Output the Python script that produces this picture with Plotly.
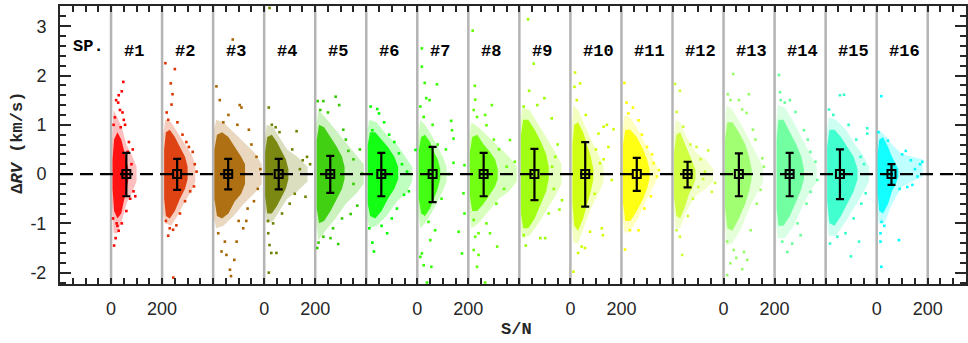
import plotly.graph_objects as go

# ---------------- data ----------------
panel_labels = ["#%d" % (i + 1) for i in range(16)]
colors = ["#ff0000", "#dd3300", "#a86400", "#708000", "#33cc00", "#00ff00",
          "#33ff00", "#66ff00", "#99ff00", "#ccff00", "#ffff00", "#ccff33",
          "#99ff66", "#66ff99", "#33ffcc", "#00ffff"]

# dense core of each cloud: S/N samples, upper and lower Delta RV
core_sn = [[6, 12, 25, 40, 50, 60, 68], [8, 15, 30, 50, 70, 90, 100], [5, 15, 35, 60, 85, 110, 125],
           [4, 12, 30, 50, 70, 85, 95], [6, 15, 35, 60, 85, 105, 115], [6, 15, 35, 60, 85, 110, 125],
           [6, 15, 30, 50, 65, 80, 90], [6, 15, 35, 60, 85, 105, 115], [6, 15, 35, 60, 85, 105, 115],
           [8, 15, 30, 50, 65, 80, 90], [6, 15, 35, 60, 85, 100, 110], [6, 15, 30, 50, 65, 80, 90],
           [6, 15, 35, 60, 85, 100, 110], [8, 15, 35, 60, 85, 105, 115], [6, 15, 35, 60, 85, 110, 125],
           [4, 10, 25, 45, 60, 75, 85]]
core_hi = [[0.3, 0.7, 0.85, 0.7, 0.5, 0.3, 0.1], [0.5, 0.85, 0.9, 0.75, 0.55, 0.35, 0.15], [0.5, 0.8, 0.85, 0.75, 0.55, 0.35, 0.2],
           [0.45, 0.75, 0.8, 0.65, 0.45, 0.3, 0.1], [0.7, 1.0, 0.95, 0.75, 0.55, 0.35, 0.15], [0.6, 0.85, 0.85, 0.7, 0.55, 0.35, 0.15],
           [0.5, 0.75, 0.8, 0.65, 0.45, 0.3, 0.1], [0.45, 0.75, 0.8, 0.6, 0.45, 0.3, 0.1], [0.8, 1.1, 1.1, 0.9, 0.65, 0.4, 0.15],
           [0.6, 1.0, 1.05, 0.85, 0.6, 0.35, 0.1], [0.6, 0.9, 0.9, 0.75, 0.5, 0.3, 0.1], [0.45, 0.8, 0.85, 0.6, 0.4, 0.25, 0.1],
           [0.7, 1.05, 1.05, 0.85, 0.6, 0.35, 0.1], [0.7, 1.1, 1.1, 0.85, 0.6, 0.35, 0.1], [0.55, 0.9, 0.9, 0.75, 0.55, 0.35, 0.1],
           [0.4, 0.7, 0.75, 0.55, 0.35, 0.2, 0.1]]
core_lo = [[-0.3, -0.75, -0.9, -0.8, -0.55, -0.35, -0.1], [-0.5, -0.85, -0.9, -0.75, -0.5, -0.3, -0.1], [-0.5, -0.85, -0.9, -0.8, -0.55, -0.4, -0.2],
           [-0.45, -0.8, -0.8, -0.65, -0.45, -0.3, -0.1], [-0.7, -1.0, -0.95, -0.75, -0.5, -0.3, -0.1], [-0.6, -0.85, -0.9, -0.75, -0.5, -0.3, -0.1],
           [-0.5, -0.8, -0.85, -0.7, -0.5, -0.3, -0.1], [-0.45, -0.75, -0.75, -0.6, -0.4, -0.25, -0.1], [-0.8, -1.1, -1.1, -0.9, -0.6, -0.35, -0.1],
           [-0.6, -1.05, -1.15, -0.9, -0.6, -0.35, -0.1], [-0.6, -0.95, -0.95, -0.75, -0.5, -0.3, -0.1], [-0.45, -0.85, -0.9, -0.65, -0.4, -0.25, -0.1],
           [-0.7, -1.1, -1.15, -0.9, -0.6, -0.35, -0.1], [-0.7, -1.05, -1.05, -0.85, -0.55, -0.3, -0.1], [-0.55, -1.0, -1.05, -0.85, -0.6, -0.35, -0.1],
           [-0.4, -0.75, -0.8, -0.6, -0.35, -0.2, -0.05]]

# sparser halo around each core
halo_sn = [[4, 10, 25, 45, 60, 80, 100], [5, 12, 35, 60, 90, 115, 130], [4, 12, 40, 80, 120, 160, 190],
           [3, 10, 35, 60, 90, 130, 170], [5, 12, 40, 80, 120, 160, 190], [5, 12, 40, 80, 120, 155, 180],
           [4, 12, 30, 55, 80, 100, 115], [5, 12, 40, 80, 120, 160, 190], [5, 12, 40, 75, 110, 140, 165],
           [5, 12, 30, 55, 80, 110, 130], [5, 12, 35, 65, 95, 120, 140], [5, 12, 30, 55, 90, 130, 160],
           [5, 12, 35, 70, 100, 130, 155], [6, 12, 40, 75, 110, 140, 165], [5, 12, 40, 80, 115, 145, 170],
           [3, 8, 30, 60, 100, 140, 180]]
halo_hi = [[0.6, 1.3, 1.15, 0.9, 0.6, 0.4, 0.15], [0.8, 1.1, 1.05, 0.85, 0.6, 0.4, 0.2], [0.9, 1.1, 1.05, 0.85, 0.65, 0.45, 0.2],
           [0.7, 1.0, 0.95, 0.75, 0.5, 0.35, 0.15], [1.0, 1.3, 1.15, 0.9, 0.65, 0.4, 0.2], [0.9, 1.1, 1.05, 0.8, 0.6, 0.35, 0.15],
           [0.8, 1.1, 1.0, 0.8, 0.55, 0.35, 0.15], [0.8, 1.05, 0.95, 0.75, 0.55, 0.35, 0.15], [1.1, 1.35, 1.3, 1.0, 0.7, 0.45, 0.2],
           [0.9, 1.4, 1.3, 1.0, 0.7, 0.4, 0.15], [0.9, 1.2, 1.15, 0.9, 0.6, 0.35, 0.15], [0.7, 1.1, 1.05, 0.75, 0.45, 0.3, 0.1],
           [1.0, 1.4, 1.3, 1.0, 0.7, 0.4, 0.15], [1.0, 1.4, 1.35, 1.05, 0.7, 0.4, 0.15], [0.85, 1.15, 1.1, 0.9, 0.6, 0.4, 0.15],
           [0.6, 0.9, 0.8, 0.6, 0.4, 0.35, 0.3]]
halo_lo = [[-0.6, -1.2, -1.2, -0.9, -0.6, -0.4, -0.15], [-0.8, -1.0, -1.05, -0.85, -0.55, -0.35, -0.15], [-0.9, -1.1, -1.05, -0.85, -0.6, -0.4, -0.2],
           [-0.7, -1.0, -0.95, -0.75, -0.5, -0.35, -0.15], [-1.0, -1.35, -1.15, -0.9, -0.6, -0.4, -0.2], [-0.9, -1.1, -1.05, -0.85, -0.55, -0.4, -0.15],
           [-0.8, -1.1, -1.0, -0.8, -0.55, -0.35, -0.15], [-0.8, -1.1, -1.0, -0.75, -0.5, -0.35, -0.15], [-1.1, -1.3, -1.25, -1.0, -0.7, -0.45, -0.2],
           [-0.9, -1.4, -1.4, -1.05, -0.7, -0.4, -0.15], [-0.9, -1.2, -1.15, -0.9, -0.55, -0.3, -0.1], [-0.7, -1.1, -1.1, -0.75, -0.45, -0.3, -0.15],
           [-1.0, -1.45, -1.4, -1.1, -0.7, -0.4, -0.15], [-1.0, -1.3, -1.3, -1.05, -0.65, -0.35, -0.15], [-0.85, -1.25, -1.25, -0.95, -0.65, -0.4, -0.15],
           [-0.6, -1.0, -1.0, -0.6, -0.25, -0.15, -0.05]]

# scattered individual stars (S/N, Delta RV)
points = [
    [(48, 1.87), (30, 1.6), (42, 1.68), (20, 1.5), (28, 1.45), (35, 1.3), (45, 1.25), (15, 1.15), (55, 1.0), (38, 0.95),
     (50, 1.1), (10, 1.0), (22, -1.0), (12, -1.45), (18, -1.3), (30, -1.15), (25, -1.05), (42, -1.0), (8, -0.9), (60, -0.75),
     (70, 0.65), (80, 0.2), (88, -0.35), (95, -0.45), (75, -0.5), (65, 0.45), (85, 0.5)],
    [(13, 2.25), (50, 2.13), (34, 1.84), (41, 1.62), (37, 1.41), (24, 1.1), (60, 1.05), (18, 1.25), (24, -1.25), (43, -1.13),
     (56, -1.04), (44, -2.1), (30, -1.1), (15, -0.95), (120, 0.45), (128, 0.2), (125, -0.25), (110, -0.35), (105, 0.55), (80, 0.8),
     (95, 0.65), (70, -0.8), (135, 0.05), (90, -0.55)],
    [(13, 1.78), (26, 1.5), (77, 2.73), (104, 1.4), (111, 1.35), (20, -1.2), (46, -1.37), (33, -1.57), (92, -1.37), (83, -1.74),
     (66, -1.94), (52, -1.64), (118, -1.1), (70, -2.07), (140, 0.9), (150, 0.6), (170, 0.35), (185, 0.1), (175, -0.3), (160, -0.55),
     (135, -0.7), (60, 1.2), (40, 1.05), (95, 1.0), (100, -0.95), (130, -0.95)],
    [(21, 3.37), (18, 1.35), (16, -1.2), (21, -1.44), (48, -1.6), (18, -2.0), (127, 0.87), (162, -0.46), (168, 0.35), (151, 0.28),
     (30, 1.0), (45, 0.95), (60, 0.85), (15, -0.95), (35, -1.0), (70, -0.8), (110, 0.5), (120, -0.4), (140, 0.1), (180, 0.2),
     (100, -0.6), (28, -1.6)],
    [(10, 1.48), (32, 1.48), (80, 1.57), (94, 1.4), (13, -1.39), (90, -1.42), (32, -1.27), (165, -0.64), (139, -0.81), (130, 0.47),
     (184, 0.01), (175, 0.5), (50, 1.25), (20, 1.3), (110, 0.9), (120, 0.7), (150, 0.3), (70, -1.1), (105, -0.9), (8, -1.5),
     (60, -1.3), (150, -0.2)],
    [(17, 1.37), (43, 1.32), (50, 1.23), (24, 0.89), (30, -1.57), (24, -1.39), (82, -1.2), (128, 0.42), (167, -0.35), (148, -0.42),
     (193, 0.49), (70, 1.05), (90, 0.8), (110, 0.65), (100, -0.9), (120, -0.7), (140, 0.2), (60, -1.05), (12, -1.1), (160, 0.05)],
    [(18, 2.18), (18, 2.55), (29, 1.85), (77, 1.82), (35, 1.54), (48, 1.5), (12, 1.37), (25, 1.16), (133, 1.08), (136, 0.89),
     (142, 0.72), (112, 0.5), (142, 0.23), (185, 0.18), (162, -1.17), (175, -1.61), (70, -1.14), (51, -1.34), (44, -0.97), (18, -1.61),
     (25, -1.85), (12, -1.68), (55, -1.88), (38, -2.2), (185, -0.8), (181, -0.39), (123, 0.0), (60, 1.0), (80, 0.6), (95, -0.5)],
    [(17, 2.91), (25, 1.79), (27, 1.51), (66, 1.2), (92, 1.4), (34, 1.16), (21, 1.3), (71, 0.99), (163, 0.69), (182, 0.25),
     (150, 0.15), (21, -0.93), (40, -1.2), (27, -1.27), (71, -1.0), (21, -1.54), (113, -1.47), (40, -1.64), (34, -1.88), (66, -2.2),
     (85, -1.2), (120, 0.5), (140, -0.3), (110, -0.6), (100, 0.7)],
    [(34, 3.14), (56, 2.24), (38, 1.69), (98, 1.54), (127, 1.13), (17, 1.37), (167, -0.53), (157, -0.72), (82, -1.3), (101, -1.3),
     (17, -1.24), (43, -0.97), (115, -0.8), (128, 0.15), (141, 0.35), (70, 1.4), (25, -1.45), (150, 0.6), (135, -0.3)],
    [(18, 2.06), (16, 1.77), (38, 1.84), (25, 1.5), (130, 0.96), (143, 1.0), (169, 0.91), (110, 0.82), (149, 0.55), (116, 0.22),
     (162, -0.12), (123, -1.1), (127, -1.24), (77, -1.17), (44, -1.47), (12, -1.98), (57, -1.5), (100, 0.5), (95, -0.4), (130, 0.3),
     (60, 1.2), (30, -1.6)],
    [(12, 1.85), (27, 1.23), (67, 1.09), (14, -1.53), (33, -1.14), (67, -1.14), (139, -0.05), (146, 0.08), (126, 0.22), (45, 1.35),
     (80, 0.8), (100, 0.55), (115, -0.45), (90, -0.7), (20, 1.45), (120, 0.4)],
    [(10, 1.83), (29, 1.69), (16, 1.26), (42, 0.96), (94, 0.55), (140, 0.48), (127, 0.05), (167, -0.18), (154, -0.36), (101, -0.26),
     (38, -1.64), (16, -1.14), (29, -1.27), (70, 0.6), (110, 0.3), (80, -0.5), (120, -0.1), (60, -0.85)],
    [(38, 2.03), (17, 1.62), (27, 1.5), (99, 1.62), (73, 1.31), (90, 1.24), (152, 0.32), (158, 0.15), (145, -0.32), (14, -1.37),
     (40, -1.54), (27, -1.81), (14, -2.05), (73, -1.93), (93, -1.74), (106, -1.14), (80, -1.58), (50, -1.7), (125, 0.7), (130, -0.6),
     (115, 0.9), (60, 1.5)],
    [(17, 2.01), (21, 1.66), (24, 1.5), (82, 1.26), (115, 0.89), (160, 0.25), (167, -0.12), (141, -0.36), (50, -1.58), (30, -1.37),
     (69, -1.41), (102, -1.24), (60, 1.5), (130, 0.7), (125, -0.6), (90, -1.0), (40, 1.45), (140, 0.45)],
    [(13, 1.31), (56, 1.6), (72, 1.61), (163, 0.82), (163, 0.93), (137, 0.35), (157, -0.39), (99, -1.67), (131, -1.37), (17, -1.41),
     (46, -1.27), (78, -1.2), (120, 0.7), (110, -0.9), (140, -0.6), (90, 1.0), (30, 1.2), (150, 0.2)],
    [(18, 1.58), (7, 0.85), (15, 0.64), (44, 0.68), (19, -0.97), (15, -1.2), (15, -1.37), (87, -1.34), (18, -1.88), (114, 0.47),
     (134, 0.28), (179, 0.25), (160, -0.05), (140, -0.22), (120, -0.26), (100, 0.4), (90, -0.3), (150, 0.1), (170, 0.2), (30, -1.05)],
]

# mean S/N and scatter (error bar) of each spectrograph
ebar_sn = [60, 59, 59, 57, 59, 59, 60, 60, 59, 58, 60, 59, 60, 59, 56, 58]
ebar_rv = [0] * 16
ebar_plus = [0.43, 0.31, 0.31, 0.31, 0.37, 0.43, 0.55, 0.43, 0.51, 0.65, 0.33, 0.25, 0.42, 0.43, 0.50, 0.20]
ebar_minus = [0.45, 0.32, 0.31, 0.31, 0.38, 0.45, 0.57, 0.45, 0.53, 0.66, 0.34, 0.27, 0.45, 0.45, 0.51, 0.22]

PANEL = 200  # S/N span of each panel
x_range = [-200, 3350]
y_range = [-2.23, 3.41]


def rgba(hexcol, a):
    h = hexcol.lstrip("#")
    return "rgba(%d,%d,%d,%.2f)" % (int(h[0:2], 16), int(h[2:4], 16), int(h[4:6], 16), a)


fig = go.Figure()
for i in range(16):
    off = i * PANEL
    hs, hh, hl = halo_sn[i], halo_hi[i], halo_lo[i]
    fig.add_trace(go.Scatter(x=[off + s for s in hs] + [off + s for s in hs[::-1]], y=hh + hl[::-1],
                             fill="toself", fillcolor=rgba(colors[i], 0.25), mode="lines",
                             line=dict(width=0), hoverinfo="skip", showlegend=False))
for i in range(16):
    off = i * PANEL
    cs, ch, cl = core_sn[i], core_hi[i], core_lo[i]
    fig.add_trace(go.Scatter(x=[off + s for s in cs] + [off + s for s in cs[::-1]], y=ch + cl[::-1],
                             fill="toself", fillcolor=rgba(colors[i], 0.9), mode="lines",
                             line=dict(width=0), hoverinfo="skip", showlegend=False))
    fig.add_trace(go.Scatter(x=[off + p[0] for p in points[i]], y=[p[1] for p in points[i]], mode="markers",
                             marker=dict(symbol="square", size=2.6, color=colors[i], line=dict(width=0)),
                             showlegend=False))

fig.add_trace(go.Scatter(
    x=[i * PANEL + ebar_sn[i] for i in range(16)], y=ebar_rv, mode="markers",
    marker=dict(symbol="square-open", size=8, color="black", line=dict(width=2, color="black")),
    error_y=dict(type="data", symmetric=False, array=ebar_plus, arrayminus=ebar_minus,
                 color="black", thickness=2.2, width=4),
    showlegend=False))

shapes = []
for k in range(17):
    shapes.append(dict(type="line", xref="x", yref="paper", x0=k * PANEL, x1=k * PANEL, y0=0, y1=1,
                       line=dict(color="#b4b4b4", width=2.5), layer="below"))
shapes.append(dict(type="line", xref="paper", yref="y", x0=0, x1=1, y0=0, y1=0,
                   line=dict(color="black", width=2.2, dash="13px,7px"), layer="above"))

annotations = []
mono = "Liberation Mono"
for i in range(16):
    annotations.append(dict(x=i * PANEL + 42, y=2.48, xref="x", yref="y", text="<b>%s</b>" % panel_labels[i],
                            showarrow=False, xanchor="left", yanchor="middle",
                            font=dict(family=mono, size=17, color="black")))
annotations.append(dict(x=-157, y=2.58, xref="x", yref="y", text="<b>SP.</b>", showarrow=False,
                        xanchor="left", yanchor="middle", font=dict(family=mono, size=17, color="black")))
annotations.append(dict(x=-0.047, y=0.51, xref="paper", yref="paper", text="<b>\u0394<i>RV</i> (km/s)</b>",
                        textangle=-90, showarrow=False, xanchor="center", yanchor="middle",
                        font=dict(family=mono, size=17, color="#262626")))
annotations.append(dict(x=0.504, y=-0.165, xref="paper", yref="paper", text="<b>S/N</b>", showarrow=False,
                        xanchor="center", yanchor="middle", font=dict(family=mono, size=17, color="#262626")))

xt_vals = list(range(-150, 3301, 50))
xt_text = ["0" if (v % 600 == 0) else ("200" if (v % 600 == 200) else "") for v in xt_vals]
yt_vals = [-2, -1, 0, 1, 2, 3]
yt_text = ["-2", "-1", "0", "1", "2", "3"]

axis_col = "#262626"
fig.update_layout(
    width=968, height=343, margin=dict(l=60, r=2, t=6, b=59, autoexpand=False),
    plot_bgcolor="white", paper_bgcolor="white",
    shapes=shapes, annotations=annotations,
    xaxis=dict(range=x_range, tickmode="array", tickvals=xt_vals, ticktext=xt_text,
               ticks="inside", ticklen=6, tickwidth=1.5, tickcolor=axis_col,
               showline=True, linewidth=2, linecolor=axis_col, mirror="ticks",
               showgrid=False, zeroline=False, ticklabelstandoff=7, automargin=False,
               tickfont=dict(family="Liberation Sans", size=18, color=axis_col)),
    yaxis=dict(range=y_range, tickmode="array", tickvals=yt_vals, ticktext=yt_text,
               ticks="inside", ticklen=11, tickwidth=1.5, tickcolor=axis_col,
               minor=dict(tickmode="linear", tick0=0, dtick=0.2, ticks="inside", ticklen=6,
                          tickwidth=1.5, tickcolor=axis_col, showgrid=False),
               showline=True, linewidth=2, linecolor=axis_col, mirror="ticks",
               showgrid=False, zeroline=False, ticklabelstandoff=8, automargin=False,
               tickfont=dict(family="Liberation Sans", size=18, color=axis_col)),
)

fig.write_html("out.html", config={"displayModeBar": False},
               post_script="document.body.style.margin='0';document.body.style.overflow='hidden';")
